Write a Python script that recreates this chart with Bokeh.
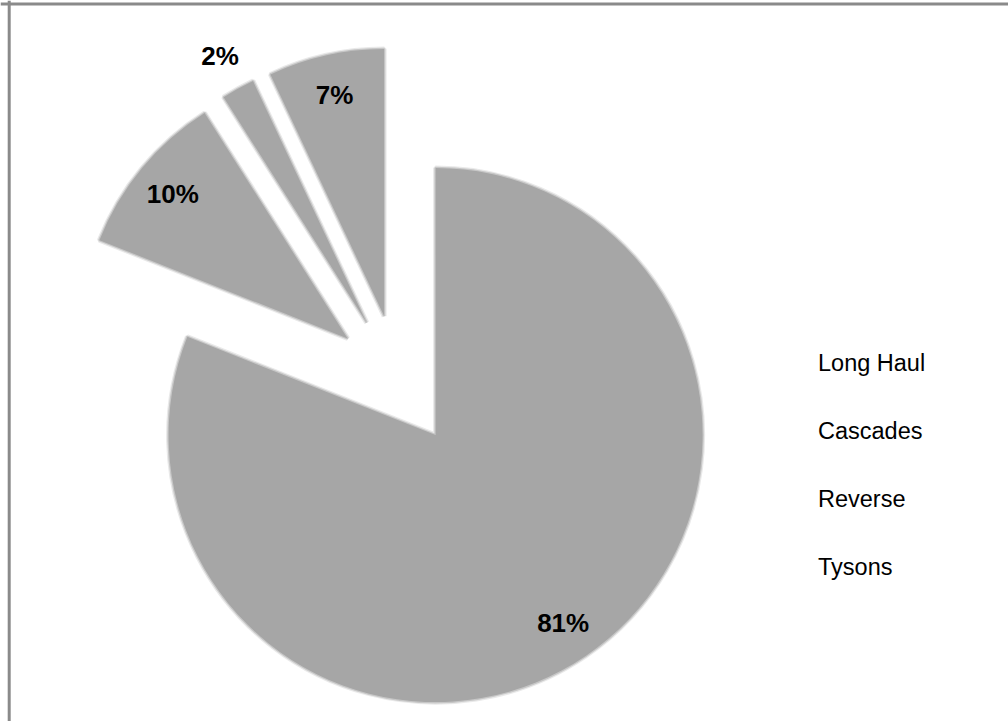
import math
from bokeh.plotting import figure
from bokeh.models import Range1d, Span, Legend, LegendItem, ColumnDataSource
from bokeh.core.properties import value
from bokeh.embed import file_html
from bokeh.resources import INLINE

# ---- data ----
categories = ["Long Haul", "Cascades", "Reverse", "Tysons"]
percentages = [81, 10, 2, 7]

# ---- layout parameters (pixel-like coordinate system, y up) ----
W, H = 1008, 721
CX, CY = 398, H - 380        # pie centre
R = 267                      # radius
EXPLODE = 66                 # explode distance for every slice
FILL = "#a6a6a6"

total = float(sum(percentages))
xs, ys, starts, ends, lx, ly, labels = [], [], [], [], [], [], []
cum = 0.0
for v in percentages:
    a0 = cum / total
    a1 = (cum + v) / total
    cum += v
    s = math.pi / 2 - 2 * math.pi * a0
    e = math.pi / 2 - 2 * math.pi * a1
    mid = (s + e) / 2
    ax = CX + EXPLODE * math.cos(mid)
    ay = CY + EXPLODE * math.sin(mid)
    xs.append(ax); ys.append(ay); starts.append(s); ends.append(e)
    f = 0.85 if v / total >= 0.05 else 1.14
    lx.append(ax + f * R * math.cos(mid))
    ly.append(ay + f * R * math.sin(mid))
    labels.append(f"{v}%")

src = ColumnDataSource(dict(x=xs, y=ys, start=starts, end=ends, name=categories))
lsrc = ColumnDataSource(dict(x=lx, y=ly, text=labels))

p = figure(width=W, height=H, output_backend="svg", toolbar_location=None,
           x_range=Range1d(0, W), y_range=Range1d(0, H),
           min_border=0)
p.axis.visible = False
p.grid.visible = False
p.outline_line_color = None
p.background_fill_color = "white"
p.border_fill_color = "white"

# soft edge halo (blurred look)
p.wedge(x="x", y="y", radius=R, start_angle="start", end_angle="end",
        direction="clock", source=src, fill_color=None,
        line_color=FILL, line_width=5, line_alpha=0.25)
p.wedge(x="x", y="y", radius=R, start_angle="start", end_angle="end",
        direction="clock", source=src, fill_color=None,
        line_color=FILL, line_width=2.5, line_alpha=0.5)
wedges = p.wedge(x="x", y="y", radius=R, start_angle="start", end_angle="end",
                 direction="clock", source=src, fill_color=FILL, line_color=None)

p.text(x="x", y="y", text="text", source=lsrc, text_align="center",
       text_baseline="middle", text_font=value("Liberation Sans"),
       text_font_size="26px", text_font_style="bold", text_color="black")

# frame border (top and left visible, the rest is beyond the picture)
p.add_layout(Span(location=8.7, dimension="height", line_color="#8a8a8a", line_width=3))
p.add_layout(Span(location=H - 3.4, dimension="width", line_color="#8a8a8a", line_width=3))

legend = Legend(items=[LegendItem(label=c, renderers=[wedges], index=i)
                       for i, c in enumerate(categories)],
                location=(818, 140), glyph_width=0, glyph_height=22,
                label_height=22, label_standoff=0, spacing=41, padding=0,
                margin=0, border_line_color=None, background_fill_alpha=0,
                label_text_font="Liberation Sans", label_text_font_size="23.5px",
                label_text_color="black")
p.add_layout(legend)

open("out.html", "w").write(file_html(p, INLINE))
